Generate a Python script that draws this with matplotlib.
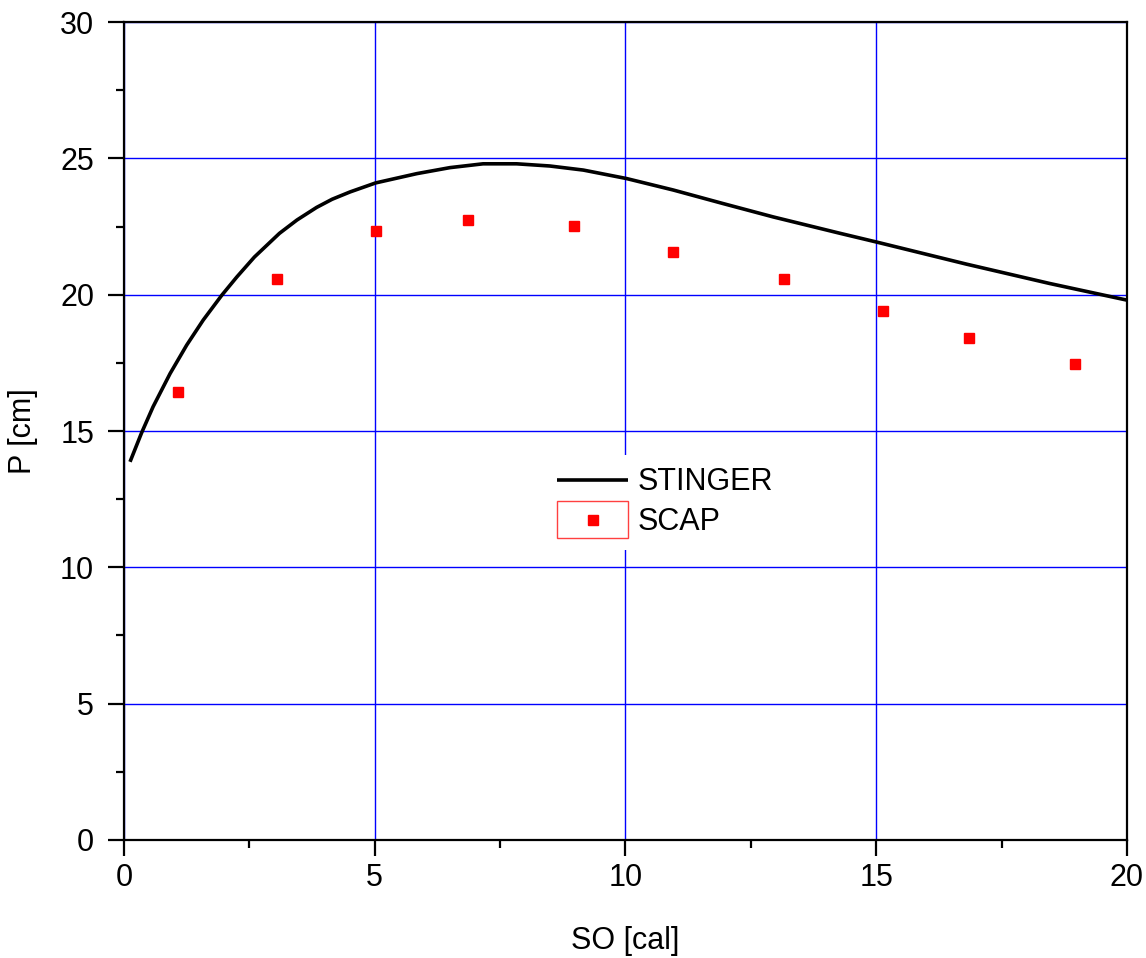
import numpy as np
import matplotlib
matplotlib.use('Agg')
import matplotlib.pyplot as plt
from matplotlib.legend_handler import HandlerLine2D
from matplotlib.patches import Rectangle

plt.rcParams['font.family'] = ['Liberation Sans', 'DejaVu Sans']

# STINGER curve
stinger_so = [0.12, 0.35, 0.58, 0.92, 1.25, 1.58, 1.95, 2.25, 2.6, 3.1, 3.45, 3.84, 4.15,
              4.51, 5.02, 5.84, 6.5, 7.16, 7.83, 8.49, 9.16, 10.02, 10.95, 11.95, 12.95,
              14.28, 15.03, 16.8, 18.46, 20.0]
stinger_p = [13.87, 14.93, 15.89, 17.11, 18.15, 19.07, 19.98, 20.65, 21.38, 22.25, 22.74, 23.2, 23.5,
             23.77, 24.1, 24.44, 24.66, 24.8, 24.8, 24.72, 24.57, 24.26, 23.84, 23.34, 22.85,
             22.25, 21.92, 21.12, 20.41, 19.8]

# SCAP points
scap_so = [1.08, 3.05, 5.02, 6.86, 8.97, 10.95, 13.16, 15.13, 16.85, 18.96]
scap_p = [16.43, 20.57, 22.33, 22.74, 22.52, 21.56, 20.57, 19.4, 18.41, 17.45]


class BoxedMarker(HandlerLine2D):
    # origin-style legend entry: marker inside a red box
    def create_artists(self, legend, orig_handle, xdescent, ydescent,
                       width, height, fontsize, trans):
        arts = super().create_artists(legend, orig_handle, xdescent, ydescent,
                                      width, height, fontsize, trans)
        bh = fontsize * 1.2
        box = Rectangle((-xdescent, -ydescent + height / 2 - bh / 2), width, bh,
                        fill=False, edgecolor='#ff4040', linewidth=1.0,
                        transform=trans)
        return [box] + list(arts)


fig = plt.figure(figsize=(11.46, 9.58), dpi=100)
ax = fig.add_axes([0.1082, 0.1232, 0.8752, 0.8538])

ax.plot(stinger_so, stinger_p, color='black', lw=2.6, label='STINGER', zorder=3,
        solid_joinstyle='round', solid_capstyle='butt')
sc, = ax.plot(scap_so, scap_p, ls='none', marker='s', ms=7.5, color='red',
              label='SCAP', zorder=4)

ax.set_xlim(0, 20)
ax.set_ylim(0, 30)
ax.set_xticks(np.arange(0, 21, 5))
ax.set_yticks(np.arange(0, 31, 5))
ax.set_xticks(np.arange(2.5, 20, 5), minor=True)
ax.set_yticks(np.arange(2.5, 30, 5), minor=True)
ax.grid(True, which='major', color='#0000ff', lw=1.0)
ax.set_axisbelow(True)

ax.tick_params(which='major', direction='out', length=11.5, width=1.6,
               labelsize=22)
ax.tick_params(axis='x', which='major', pad=5)
ax.tick_params(axis='y', which='major', pad=10)
ax.tick_params(which='minor', direction='out', length=6, width=1.6)
for s in ax.spines.values():
    s.set_linewidth(1.6)

ax.set_xlabel('SO [cal]', fontsize=22, labelpad=24)
ax.set_ylabel('P [cm]', fontsize=22, labelpad=16)

leg = ax.legend(loc='upper left', bbox_to_anchor=(0.4197, 0.4705), fontsize=22,
                frameon=True, framealpha=1, edgecolor='none', fancybox=False,
                handlelength=2.33, handletextpad=0.3, labelspacing=0.33,
                borderpad=0.4, borderaxespad=0,
                handler_map={sc: BoxedMarker(numpoints=1)})

fig.savefig('out.png', dpi=100)
